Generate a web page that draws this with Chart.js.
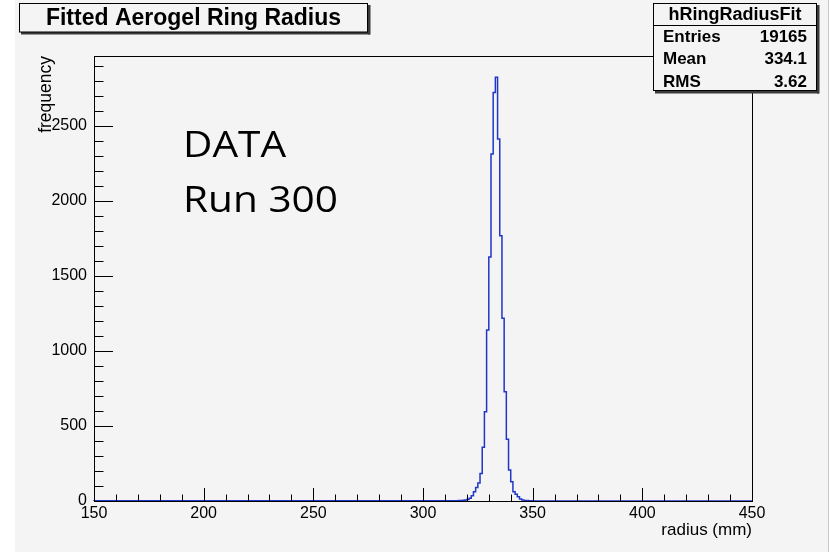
<!DOCTYPE html>
<html>
<head>
<meta charset="utf-8">
<script src="https://cdn.jsdelivr.net/npm/chart.js@4.4.1/dist/chart.umd.min.js"></script>
<style>
html,body{margin:0;padding:0;background:#ffffff;}
#wrap{width:834px;height:552px;position:relative;}
canvas{display:block;}
</style>
</head>
<body>
<div id="wrap"><canvas id="c" width="834" height="552"></canvas></div>
<script>
// ---- data (1 mm bins, low edges) ----
const binLowEdges = [315,316,317,318,319,320,321,322,323,324,325,326,327,328,329,330,331,332,333,334,
                     335,336,337,338,339,340,341,342,343,344,345,346,347,348,349,350];
const binCounts   = [1,2,3,4,5,7,10,18,35,62,90,120,183,358,595,1140,1627,2313,2724,2826,
                     2413,1769,1218,729,411,207,129,62,45,29,13,6,4,3,2,1];
const binWidth = 1;
const xRange = [150, 450];
const yMaxValue = 2967;
const xTickLabels = [150,200,250,300,350,400,450];
const yTickLabels = [0,500,1000,1500,2000,2500];
const histTitle = 'Fitted Aerogel Ring Radius';
const statsName = 'hRingRadiusFit';
const statsLabels = ['Entries','Mean','RMS'];
const statsValues = ['19165','334.1','3.62'];
const xAxisTitle = 'radius (mm)';
const yAxisTitle = 'frequency';
const noteLines = ['DATA','Run 300'];

// build stepped outline points from the arrays
const points = [{x: xRange[0], y: 0}];
binLowEdges.forEach((e, i) => points.push({x: e, y: binCounts[i]}));
points.push({x: binLowEdges[binLowEdges.length - 1] + binWidth, y: 0});
points.push({x: xRange[1], y: 0});

const BG = '#f4f4f4';
const FONT = "'Liberation Sans', Arial, Helvetica, sans-serif";

const decorPlugin = {
  id: 'decor',
  beforeDraw(chart) {
    const ctx = chart.ctx;
    ctx.save();
    ctx.fillStyle = '#ffffff';
    ctx.fillRect(0, 0, chart.width, chart.height);
    ctx.fillStyle = BG;
    ctx.fillRect(15, 0, 813, chart.height);
    ctx.fillStyle = '#c8c8c8';
    ctx.fillRect(828, 0, 1, chart.height);
    ctx.restore();
  },
  afterDatasetsDraw(chart) {
    const ctx = chart.ctx;
    const ca = chart.chartArea;
    const xs = chart.scales.x, ys = chart.scales.y;
    ctx.save();
    ctx.strokeStyle = '#000';
    ctx.lineWidth = 1;
    ctx.strokeRect(Math.round(ca.left) + 0.5, Math.round(ca.top) + 0.5,
                   Math.round(ca.right - ca.left), Math.round(ca.bottom - ca.top));
    ctx.beginPath();
    for (let v = xs.min; v <= xs.max + 1e-9; v += 10) {
      const px = Math.round(xs.getPixelForValue(v)) + 0.5;
      const major = xTickLabels.includes(Math.round(v));
      const len = major ? 13 : 6.5;
      ctx.moveTo(px, ca.bottom);
      ctx.lineTo(px, ca.bottom - len);
    }
    for (let v = 0; v <= ys.max; v += 100) {
      const py = Math.round(ys.getPixelForValue(v)) + 0.5;
      const major = yTickLabels.includes(Math.round(v));
      const len = major ? 19 : 9.5;
      ctx.moveTo(ca.left, py);
      ctx.lineTo(ca.left + len, py);
    }
    ctx.stroke();
    ctx.restore();
  },
  afterDraw(chart) {
    const ctx = chart.ctx;
    ctx.save();
    // ---- title box ----
    ctx.fillStyle = '#3a3a3a';
    ctx.fillRect(21, 32, 349, 2.5);
    ctx.fillRect(368, 5, 2.5, 29.5);
    ctx.fillStyle = BG;
    ctx.fillRect(19, 3, 349, 29);
    ctx.strokeStyle = '#000';
    ctx.lineWidth = 1;
    ctx.strokeRect(19.5, 3.5, 348, 28.5);
    ctx.fillStyle = '#000';
    ctx.font = 'bold 23px ' + FONT;
    ctx.textAlign = 'center';
    ctx.textBaseline = 'alphabetic';
    ctx.fillText(histTitle, 193.5, 24.5, 302);

    // ---- stats box ----
    const bx = 653, by = 3, bw = 164, bh = 88;
    ctx.fillStyle = '#3a3a3a';
    ctx.fillRect(bx + 2, by + bh, bw, 2.5);
    ctx.fillRect(bx + bw, by + 2, 2.5, bh + 0.5);
    ctx.fillStyle = BG;
    ctx.fillRect(bx, by, bw, bh);
    ctx.strokeStyle = '#000';
    ctx.strokeRect(bx + 0.5, by + 0.5, bw - 1, bh - 1);
    ctx.beginPath();
    ctx.moveTo(bx, 25.5); ctx.lineTo(bx + bw, 25.5);
    ctx.stroke();
    ctx.fillStyle = '#000';
    ctx.font = 'bold 18px ' + FONT;
    ctx.textAlign = 'center';
    ctx.fillText(statsName, bx + bw / 2, 19.5, bw - 8);
    ctx.font = 'bold 17px ' + FONT;
    const rowY = [41.5, 64, 86.5];
    statsLabels.forEach((l, i) => {
      ctx.textAlign = 'left';
      ctx.fillText(l, 663, rowY[i]);
      ctx.textAlign = 'right';
      ctx.fillText(statsValues[i], 807, rowY[i]);
    });

    // ---- DATA / Run 300 note ----
    ctx.font = "37px 'Open Sans', sans-serif";
    ctx.textAlign = 'left';
    const w = ctx.measureText(noteLines[1]).width;
    const sx = 155 / w;
    ctx.translate(183, 0);
    ctx.scale(sx, 1);
    ctx.fillText(noteLines[0], 0, 157);
    ctx.fillText(noteLines[1], 0, 212);
    ctx.restore();
  }
};

new Chart(document.getElementById('c'), {
  type: 'line',
  data: {
    datasets: [{
      data: points,
      stepped: 'after',
      borderColor: '#1f36c8',
      borderWidth: 1.5,
      pointRadius: 0,
      fill: false,
      tension: 0,
      clip: 4
    }]
  },
  options: {
    responsive: false,
    devicePixelRatio: 1,
    animation: false,
    events: [],
    layout: {padding: {left: 0, top: 56, right: 82, bottom: 0}},
    plugins: {legend: {display: false}, tooltip: {enabled: false}, title: {display: false}},
    scales: {
      x: {
        type: 'linear',
        min: xRange[0], max: xRange[1],
        grid: {display: false, drawTicks: false},
        border: {display: false},
        ticks: {
          stepSize: 50, autoSkip: false, maxRotation: 0, minRotation: 0,
          padding: 3, color: '#000',
          font: {family: FONT, size: 16},
          callback: v => String(v)
        },
        title: {display: true, text: xAxisTitle, align: 'end', color: '#000',
                font: {family: FONT, size: 17}, padding: {top: 0, bottom: 11}},
        afterFit: s => { s.height = 51; }
      },
      y: {
        type: 'linear',
        min: 0, max: yMaxValue,
        grid: {display: false, drawTicks: false},
        border: {display: false},
        afterBuildTicks: s => { s.ticks = yTickLabels.map(v => ({value: v})); },
        ticks: {
          autoSkip: false,
          padding: 7, color: '#000',
          font: {family: FONT, size: 16},
          callback: v => String(v)
        },
        title: {display: true, text: yAxisTitle, align: 'end', color: '#000',
                font: {family: FONT, size: 17.5}, padding: {top: 36, bottom: 0}},
        afterFit: s => { s.width = 94; }
      }
    }
  },
  plugins: [decorPlugin]
});
</script>
</body>
</html>
